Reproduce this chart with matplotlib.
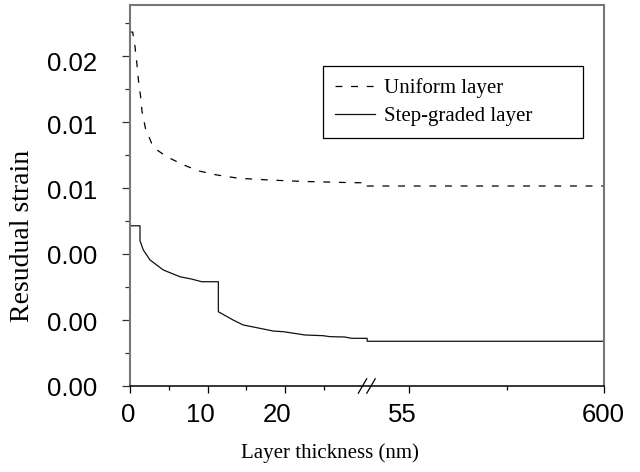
import numpy as np
import matplotlib.pyplot as plt
from matplotlib.transforms import ScaledTranslation
from matplotlib.ticker import NullFormatter

plt.rcParams['font.family'] = 'Liberation Sans'

# values
uniform_x = [0, 0.35, 0.65, 0.9, 1.1, 1.35, 1.55, 2.0, 2.8, 3.5, 4.73, 6.9, 8.9,
             11.2, 14.0, 18.1, 22.2, 25.5, 28.8, 30.6, 30.6, 600]
uniform_y = [0.02145, 0.02145, 0.02055, 0.01948, 0.01848, 0.01761, 0.01664, 0.0156,
             0.0147, 0.0143, 0.0139, 0.0134, 0.01303, 0.01279, 0.01259, 0.01248,
             0.0124, 0.01236, 0.01232, 0.01232, 0.01212, 0.01212]

graded_x = [0, 1.29, 1.29, 1.72, 2.58, 4.3, 6.45, 7.96, 9.25, 11.4, 11.4, 13.3, 14.6,
            18.5, 19.8, 22.6, 24.9, 25.8, 27.7, 28.6, 30.6, 30.6, 600]
graded_y = [0.00971, 0.00971, 0.00881, 0.00824, 0.00764, 0.00703, 0.00662, 0.00648,
            0.00632, 0.00632, 0.0045, 0.0040, 0.0037, 0.00333, 0.00329, 0.00309,
            0.00305, 0.00299, 0.00297, 0.00289, 0.00289, 0.00271, 0.00271]

xticks = [0, 10, 20, 55, 600]
xticks_minor = [5, 15, 25, 327.5]
yticks = [0, 0.004, 0.008, 0.012, 0.016, 0.020]
yticks_minor = [0.002, 0.006, 0.010, 0.014, 0.018, 0.022]
ytick_labels = ['0.00', '0.00', '0.00', '0.01', '0.01', '0.02']

# broken x axis: piecewise linear scale
brk_data = [0, 30.6, 55, 600]
brk_pos = [0, 30.6, 36.0, 61.16]


def fwd(x):
    return np.interp(x, brk_data, brk_pos)


def inv(u):
    return np.interp(u, brk_pos, brk_data)


fig = plt.figure(figsize=(6.4, 4.72), dpi=100)
ax = fig.add_axes([130 / 640, 1 - 386 / 472, 474 / 640, 381 / 472])
ax.set_xscale('function', functions=(fwd, inv))

ax.plot(uniform_x, uniform_y, color='black', lw=0.9, dashes=(5.5, 7), label='Uniform layer')
ax.plot(graded_x, graded_y, color='#111111', lw=0.9, label='Step-graded layer')

ax.set_xlim(0, 600)
ax.set_ylim(0, 0.02309)

ax.set_xticks(xticks)
ax.set_xticks(xticks_minor, minor=True)
ax.set_xticklabels([str(v) for v in xticks])
ax.xaxis.set_minor_formatter(NullFormatter())
ax.set_yticks(yticks)
ax.set_yticks(yticks_minor, minor=True)
ax.set_yticklabels(ytick_labels)

ax.tick_params(axis='x', which='major', length=5, width=0.9, pad=7, labelsize=18.5, color='black')
ax.tick_params(axis='x', which='minor', length=3, width=0.9, color='black')
ax.tick_params(axis='y', which='major', length=5.5, width=0.9, pad=18, labelsize=18.5, color='#333333')
ax.tick_params(axis='y', which='minor', length=3.6, width=0.9, color='#333333')

for side in ['left', 'top', 'right']:
    ax.spines[side].set_color('#777777')
    ax.spines[side].set_linewidth(1.5)
ax.spines['bottom'].set_color('black')
ax.spines['bottom'].set_linewidth(1.1)

# small label shifts seen in the reference
x_shift = [-1.7, -7, -8, -6.5, -1]
for lab, dx in zip(ax.get_xticklabels(), x_shift):
    lab.set_transform(lab.get_transform() + ScaledTranslation(dx / 100, 0, fig.dpi_scale_trans))
y_shift = [0, 1.7, 1, 2, 3, 5.7]
for lab, dy in zip(ax.get_yticklabels(), y_shift):
    lab.set_transform(lab.get_transform() + ScaledTranslation(0, -dy / 100, fig.dpi_scale_trans))

# break marks on the x axis
bx = (367 - 130) / 474
for cx in [bx - 4.5 / 474, bx + 4 / 474]:
    ax.plot([cx - 4.2 / 474, cx + 4.2 / 474], [-7.2 / 381, 7.2 / 381], color='black',
            lw=0.9, transform=ax.transAxes, clip_on=False)

leg = ax.legend(loc='upper left', bbox_to_anchor=(0.407, 0.651, 0.549, 0.189), mode='expand',
                borderaxespad=0, prop={'family': 'Liberation Serif', 'size': 15},
                handlelength=1.9, handletextpad=0.45, labelspacing=0.42, borderpad=0.58,
                fancybox=False, framealpha=1)
leg.get_frame().set_edgecolor('black')
leg.get_frame().set_linewidth(0.9)

fig.text(330 / 640, 1 - 458 / 472, 'Layer thickness (nm)', ha='center', va='baseline',
         family='Liberation Serif', fontsize=15)
fig.text(23 / 640, 1 - 236 / 472, 'Resudual strain', ha='center', va='center', rotation=90,
         family='Liberation Serif', fontsize=20)

fig.savefig('out.png', dpi=100)
